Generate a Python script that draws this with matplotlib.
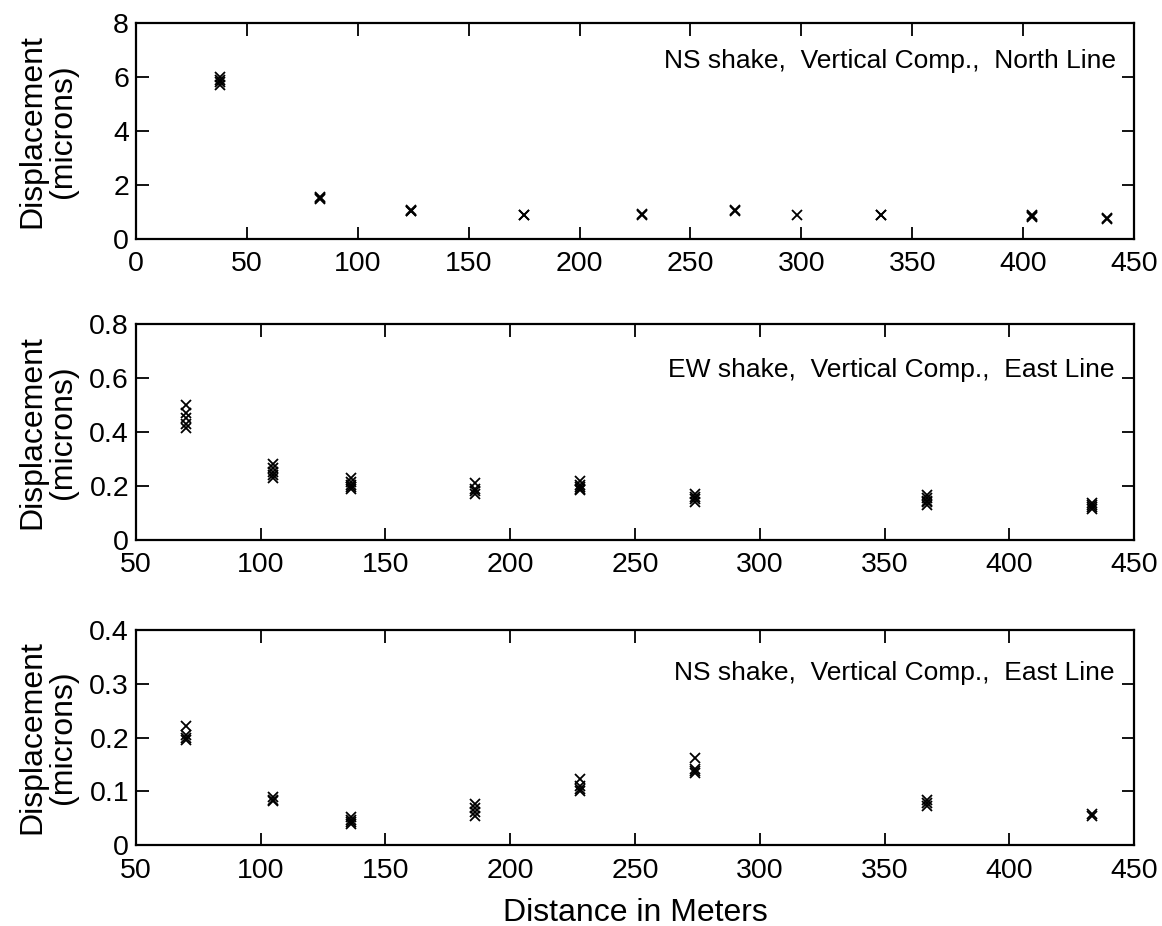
import matplotlib
matplotlib.use('Agg')
import matplotlib.pyplot as plt

plt.rcParams['font.family'] = ['Liberation Sans', 'DejaVu Sans']

# panel 1: NS shake, vertical comp., north line
ns_north_x = [38, 38, 38, 38, 83, 83, 83, 124, 124, 124, 175, 175, 228, 228,
              270, 270, 298, 336, 336, 404, 404, 404, 438, 438]
ns_north_y = [6.0, 5.9, 5.8, 5.72, 1.55, 1.5, 1.47, 1.08, 1.04, 1.02, 0.9, 0.88,
              0.93, 0.9, 1.06, 1.02, 0.88, 0.9, 0.87, 0.88, 0.85, 0.82, 0.76, 0.73]

# panel 2: EW shake, vertical comp., east line
ew_east_x = [70, 70, 70, 70, 70,
             105, 105, 105, 105, 105,
             136, 136, 136, 136, 136,
             186, 186, 186, 186,
             228, 228, 228, 228, 228,
             274, 274, 274, 274,
             367, 367, 367, 367, 367,
             433, 433, 433, 433]
ew_east_y = [0.50, 0.47, 0.45, 0.43, 0.415,
             0.28, 0.265, 0.25, 0.24, 0.23,
             0.23, 0.215, 0.205, 0.195, 0.19,
             0.21, 0.19, 0.18, 0.17,
             0.22, 0.205, 0.195, 0.19, 0.185,
             0.17, 0.16, 0.15, 0.14,
             0.165, 0.155, 0.145, 0.14, 0.13,
             0.135, 0.128, 0.12, 0.115]

# panel 3: NS shake, vertical comp., east line
ns_east_x = [70, 70, 70, 70,
             105, 105, 105,
             136, 136, 136, 136,
             186, 186, 186, 186,
             228, 228, 228, 228,
             274, 274, 274, 274,
             367, 367, 367,
             433, 433]
ns_east_y = [0.222, 0.205, 0.2, 0.195,
             0.09, 0.085, 0.082,
             0.052, 0.047, 0.043, 0.04,
             0.077, 0.07, 0.062, 0.055,
             0.123, 0.11, 0.105, 0.101,
             0.163, 0.142, 0.138, 0.134,
             0.084, 0.078, 0.074,
             0.058, 0.054]

panels = [
    (ns_north_x, ns_north_y, (0, 450), (0, 8), [0, 2, 4, 6, 8],
     'NS shake,  Vertical Comp.,  North Line', 6.6),
    (ew_east_x, ew_east_y, (50, 450), (0, 0.8), [0, 0.2, 0.4, 0.6, 0.8],
     'EW shake,  Vertical Comp.,  East Line', 0.63),
    (ns_east_x, ns_east_y, (50, 450), (0, 0.4), [0, 0.1, 0.2, 0.3, 0.4],
     'NS shake,  Vertical Comp.,  East Line', 0.32),
]

fig = plt.figure(figsize=(11.62, 9.26), dpi=100)
ax_rects = [
    [0.117, 0.742, 0.859, 0.233],
    [0.117, 0.417, 0.859, 0.233],
    [0.117, 0.087, 0.859, 0.233],
]

axes = []
for rect, (xs, ys, xlim, ylim, yticks, label, ty) in zip(ax_rects, panels):
    ax = fig.add_axes(rect)
    ax.plot(xs, ys, 'x', color='black', markersize=7, markeredgewidth=1.3)
    ax.set_xlim(*xlim)
    ax.set_ylim(*ylim)
    ax.set_yticks(yticks)
    ax.set_yticklabels(['0' if v == 0 else ('%g' % v) for v in yticks])
    ax.tick_params(direction='in', length=9, width=1.3, labelsize=20.5,
                   top=True, right=True)
    ax.tick_params(axis='x', pad=9)
    ax.tick_params(axis='y', pad=5)
    for s in ax.spines.values():
        s.set_linewidth(1.6)
    ax.set_ylabel('Displacement\n(microns)', fontsize=23, linespacing=1.05)
    ax.yaxis.set_label_coords(-0.058, 0.5)
    ax.text(442, ty, label, ha='right', va='center', fontsize=19)
    axes.append(ax)

axes[-1].set_xlabel('Distance in Meters', fontsize=23, labelpad=10)

fig.savefig('out.png', dpi=100)
